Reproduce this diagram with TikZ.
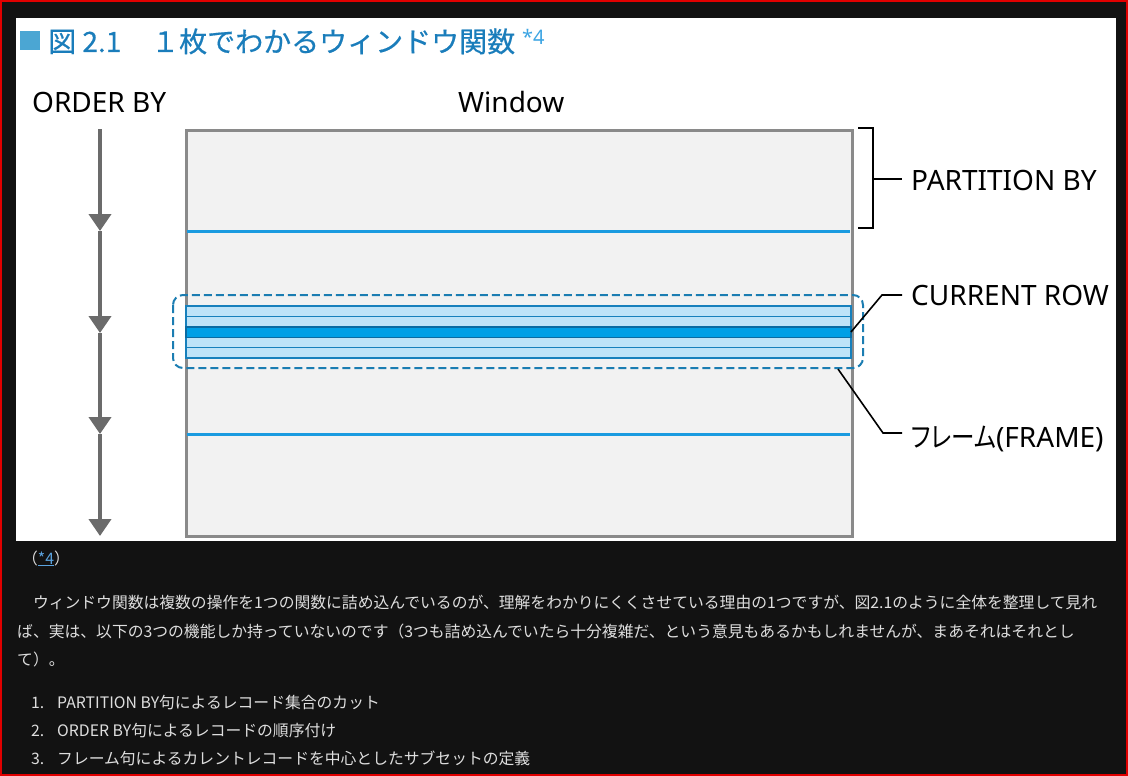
\documentclass[tikz,border=0pt]{standalone}
\usepackage{fontspec}
\setmainfont{Noto Sans}
\newfontfamily\jp{Noto Sans CJK JP}
\newfontfamily\jpp{Noto Sans CJK JP}[RawFeature=+palt, FakeStretch=0.84]
\newfontfamily\jpt{Noto Sans CJK JP}[FakeBold=0.5]
\usetikzlibrary{arrows.meta}
\definecolor{bgdark}{HTML}{121212}
\definecolor{frameRed}{HTML}{E00000}
\definecolor{titleblue}{HTML}{1A7DBB}
\definecolor{sqblue}{HTML}{4BA6D3}
\definecolor{supblue}{HTML}{3DA5E3}
\definecolor{arrowgray}{HTML}{6B6B6B}
\definecolor{winborder}{HTML}{8A8A8A}
\definecolor{winfill}{HTML}{F2F2F2}
\definecolor{partblue}{HTML}{1A9BE0}
\definecolor{rowfill}{HTML}{BEE3F8}
\definecolor{rowborder}{HTML}{1780BC}
\definecolor{curfill}{HTML}{009FE6}
\definecolor{curborder}{HTML}{0A6BA2}
\definecolor{dashblue}{HTML}{1B7DB2}
\definecolor{bodytext}{HTML}{DEDEDE}
\definecolor{linkblue}{HTML}{5BA3DF}
\begin{document}
\begin{tikzpicture}[x=1pt,y=-1pt,
  lbl/.style={font=\fontsize{28}{30}\selectfont, text=black, inner sep=0, anchor=base west},
  titletext/.style={font=\jpt\fontsize{28}{30}\selectfont, text=titleblue, inner sep=0, anchor=base west},
  body/.style={font=\jp\fontsize{15.8}{18}\selectfont, text=bodytext, inner sep=0, anchor=base west},
  orderarrow/.style={draw=arrowgray, line width=4, -{Triangle[width=22pt,length=17pt]}},
  partline/.style={draw=partblue, line width=3},
  rowbox/.style={draw=rowborder, fill=rowfill, line width=1.4},
  currowbox/.style={draw=curborder, fill=curfill, line width=1.4},
  framebox/.style={draw=dashblue, line width=2, dash pattern=on 8pt off 4pt, rounded corners=10pt},
  leader/.style={draw=black, line width=1.6}
]
\useasboundingbox (0,0) rectangle (1128,776);
\fill[bgdark] (0,0) rectangle (1128,776);
\draw[frameRed, line width=2] (1,1) rectangle (1127,775);
\fill[white] (16,18) rectangle (1116,541);

% title
\fill[sqblue] (20,31) rectangle (40,50);
\node[titletext] (t1) at (48,52) {図 2.1};
\node[titletext] (t2) at (151,52) {１枚でわかるウィンドウ関数};
\node[inner sep=0, anchor=base west, font=\fontsize{20}{20}\selectfont, text=supblue] (t3) at (522,45) {*4};

% headers
\node[lbl] (orderby) at (32,112) {ORDER BY};
\node[lbl] (winlbl) at (458,112) {Window};

% order arrows
\coordinate (a0) at (100,129);
\coordinate (a1) at (100,231);
\coordinate (a2) at (100,333);
\coordinate (a3) at (100,434);
\coordinate (a4) at (100,536);
\draw[orderarrow] (a0) -- (a1);
\draw[orderarrow] (a1) -- (a2);
\draw[orderarrow] (a2) -- (a3);
\draw[orderarrow] (a3) -- (a4);

% window
\node[draw=winborder, fill=winfill, line width=2.5, minimum width=666pt, minimum height=406pt, inner sep=0, anchor=north west] (win) at (185,129) {};
\draw[partline] (186.5,231) -- (849.5,231);
\draw[partline] (186.5,434) -- (849.5,434);

% rows
\draw[rowbox] (186,306) rectangle (851,316.4);
\draw[rowbox] (186,316.4) rectangle (851,326.8);
\draw[rowbox] (186,337.2) rectangle (851,347.6);
\draw[rowbox] (186,347.6) rectangle (851,358);
\draw[currowbox] (186,326.8) rectangle (851,337.2);

% frame
\draw[framebox] (173,295) rectangle (863,368);

% labels
\node[lbl] (partlbl) at (911,190) {PARTITION BY};
\node[lbl] (curlbl) at (911,305) {CURRENT ROW};
\node[lbl] (framelbl) at (911,447) {{\jpp フレーム}(FRAME)};

% bracket
\coordinate (b1) at (858,128);
\coordinate (b2) at (873,128);
\coordinate (b3) at (873,228);
\coordinate (b4) at (858,228);
\coordinate (bm) at (873,179);
\coordinate (be) at (902,179);
\draw[leader, line width=2] (b1) -- (b2) -- (b3) -- (b4);
\draw[leader, line width=2] (bm) -- (be);

% current row leader
\coordinate (c0) at (851,332);
\coordinate (c1) at (882,295);
\coordinate (c2) at (902,295);
\draw[leader] (c0) -- (c1) -- (c2);

% frame leader
\coordinate (f0) at (838,369);
\coordinate (f1) at (883,433);
\coordinate (f2) at (902,433);
\draw[leader] (f0) -- (f1) -- (f2);

% text below
\node[body] (note) at (22,564) {（\textcolor{linkblue}{\underline{*4}}）};
\node[body] (p1) at (17,608) {　ウィンドウ関数は複数の操作を1つの関数に詰め込んでいるのが、理解をわかりにくくさせている理由の1つですが、図2.1のように全体を整理して見れ};
\node[body] (p2) at (17,637) {ば、実は、以下の3つの機能しか持っていないのです（3つも詰め込んでいたら十分複雑だ、という意見もあるかもしれませんが、まあそれはそれとし};
\node[body] (p3) at (17,665) {て）。};
\node[body] (n1) at (31,708) {1.};
\node[body] (i1) at (57,708) {PARTITION BY句によるレコード集合のカット};
\node[body] (n2) at (31,736) {2.};
\node[body] (i2) at (57,736) {ORDER BY句によるレコードの順序付け};
\node[body] (n3) at (31,764) {3.};
\node[body] (i3) at (57,764) {フレーム句によるカレントレコードを中心としたサブセットの定義};
\end{tikzpicture}
\end{document}
